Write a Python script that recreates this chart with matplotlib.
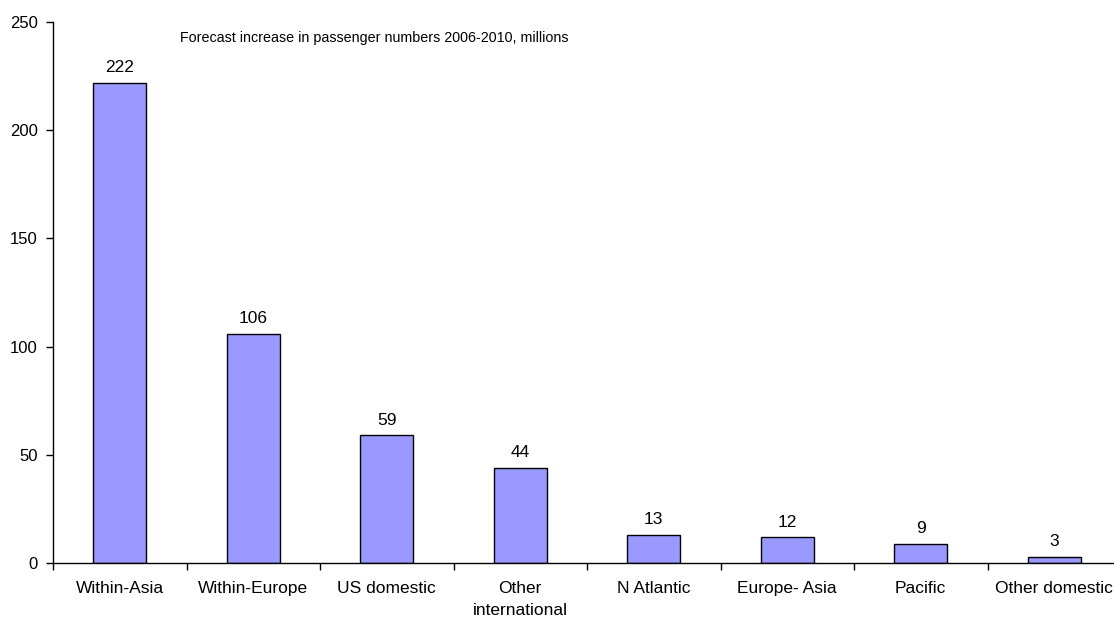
import matplotlib
matplotlib.use("Agg")
import matplotlib.pyplot as plt
from matplotlib.transforms import blended_transform_factory, offset_copy
import numpy as np

categories = ["Within-Asia", "Within-Europe", "US domestic", "Other\ninternational",
              "N Atlantic", "Europe- Asia", "Pacific", "Other domestic"]
values = [222, 106, 59, 44, 13, 12, 9, 3]
title = "Forecast increase in passenger numbers 2006-2010, millions"

plt.rcParams['font.family'] = ['Liberation Sans', 'DejaVu Sans']

W, H = 1114, 617
DPI = 100
fig = plt.figure(figsize=(W/DPI, H/DPI), dpi=DPI)
left, right, top, bottom = 53, 1121, 22, 563
ax = fig.add_axes([left/W, (H-bottom)/H, (right-left)/W, (bottom-top)/H])

x = np.arange(len(categories))
ax.bar(x, values, width=0.4, color="#9999FF", edgecolor="black", linewidth=1.0)
for xi, v in zip(x, values):
    ax.annotate(str(v), (xi, v), xytext=(0, 10.5 * 72 / DPI), textcoords="offset points",
                ha="center", va="baseline", fontsize=12.5)

ax.set_xlim(-0.5, len(categories) - 0.5)
ax.set_ylim(0, 250)
ax.set_yticks(np.arange(0, 251, 50))
ax.set_xticks(np.arange(-0.5, len(categories) - 0.5, 1.0))
ax.set_xticklabels([])
ax.tick_params(axis="x", length=5, direction="out", width=1)
ax.tick_params(axis="y", length=5, direction="out", width=1, labelsize=12, pad=6)

# category labels, line by line on fixed baselines
trans = blended_transform_factory(ax.transData, ax.transAxes)
for xi, lab in zip(x, categories):
    for i, line in enumerate(lab.split("\n")):
        t = offset_copy(trans, fig=fig, x=0, y=-(30 + i * 21.7) * 72 / DPI, units="points")
        ax.text(xi, 0, line, transform=t, ha="center", va="baseline", fontsize=12.5,
                clip_on=False)

for s in ["top", "right"]:
    ax.spines[s].set_visible(False)
for s in ["left", "bottom"]:
    ax.spines[s].set_linewidth(1.0)

# title placed inside the plot area
tx = -0.5 + (180 - left) / 133.5
ty = (bottom - 42) / (bottom - top) * 250
ax.text(tx, ty, title, fontsize=10.3, ha="left", va="baseline")

fig.savefig("out.png", dpi=DPI)
